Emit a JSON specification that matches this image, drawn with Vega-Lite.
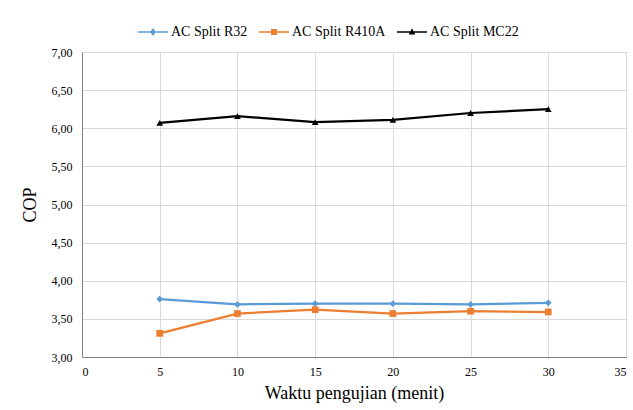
{
  "$schema": "https://vega.github.io/schema/vega-lite/v6.json",
  "autosize": {"type": "none"},
  "width": 544,
  "height": 305,
  "padding": {"left": 82, "top": 52, "right": 7, "bottom": 53},
  "background": "white",
  "config": {
    "font": "Liberation Serif",
    "style": {
      "guide-label": {"font": "Liberation Serif"},
      "guide-title": {"font": "Liberation Serif"}
    },
    "axis": {"labelFont": "Liberation Serif", "titleFont": "Liberation Serif"},
    "legend": {"labelFont": "Liberation Serif"},
    "view": {"stroke": "#bfbfbf", "strokeWidth": 1}
  },
  "data": {
    "values": [
      {"t": 5, "cop": 3.76, "s": "AC Split R32"},
      {"t": 10, "cop": 3.69, "s": "AC Split R32"},
      {"t": 15, "cop": 3.70, "s": "AC Split R32"},
      {"t": 20, "cop": 3.70, "s": "AC Split R32"},
      {"t": 25, "cop": 3.69, "s": "AC Split R32"},
      {"t": 30, "cop": 3.71, "s": "AC Split R32"},
      {"t": 5, "cop": 3.31, "s": "AC Split R410A"},
      {"t": 10, "cop": 3.57, "s": "AC Split R410A"},
      {"t": 15, "cop": 3.62, "s": "AC Split R410A"},
      {"t": 20, "cop": 3.57, "s": "AC Split R410A"},
      {"t": 25, "cop": 3.60, "s": "AC Split R410A"},
      {"t": 30, "cop": 3.59, "s": "AC Split R410A"},
      {"t": 5, "cop": 6.07, "s": "AC Split MC22"},
      {"t": 10, "cop": 6.16, "s": "AC Split MC22"},
      {"t": 15, "cop": 6.08, "s": "AC Split MC22"},
      {"t": 20, "cop": 6.11, "s": "AC Split MC22"},
      {"t": 25, "cop": 6.20, "s": "AC Split MC22"},
      {"t": 30, "cop": 6.25, "s": "AC Split MC22"}
    ]
  },
  "encoding": {
    "x": {
      "field": "t", "type": "quantitative",
      "scale": {"domain": [0, 35], "nice": false},
      "axis": {
        "values": [0, 5, 10, 15, 20, 25, 30, 35],
        "title": "Waktu pengujian (menit)",
        "titleFont": "Liberation Serif", "titleFontSize": 18, "titleFontWeight": "normal", "titleColor": "#000",
        "titlePadding": 7,
        "labelFont": "Liberation Serif", "labelFontSize": 12, "labelColor": "#000", "labelPadding": 9,
        "ticks": false, "domainColor": "#7f7f7f", "gridColor": "#d9d9d9"
      }
    },
    "y": {
      "field": "cop", "type": "quantitative",
      "scale": {"domain": [3, 7], "nice": false, "zero": false},
      "axis": {
        "values": [3, 3.5, 4, 4.5, 5, 5.5, 6, 6.5, 7],
        "labelExpr": "replace(format(datum.value, '.2f'), '.', ',')",
        "title": "COP",
        "titleFont": "Liberation Serif", "titleFontSize": 18, "titleFontWeight": "normal", "titleColor": "#000",
        "titlePadding": 12,
        "labelFont": "Liberation Serif", "labelFontSize": 12, "labelColor": "#000", "labelPadding": 10,
        "ticks": false, "domainColor": "#7f7f7f", "gridColor": "#d9d9d9"
      }
    }
  },
  "resolve": {
    "scale": {"shape": "independent", "color": "independent"},
    "legend": {"shape": "independent", "color": "independent"}
  },
  "layer": [
    {
      "mark": {"type": "line", "strokeWidth": 2.25},
      "encoding": {
        "color": {
          "field": "s", "type": "nominal", "legend": null,
          "scale": {
            "domain": ["AC Split R32", "AC Split R410A", "AC Split MC22"],
            "range": ["#5b9bd5", "#ed7d31", "#000000"]
          }
        }
      }
    },
    {
      "mark": {"type": "point", "filled": true, "size": 45, "opacity": 1},
      "encoding": {
        "color": {
          "field": "s", "type": "nominal", "legend": null,
          "scale": {
            "domain": ["AC Split R32", "AC Split R410A", "AC Split MC22"],
            "range": ["#5b9bd5", "#ed7d31", "#000000"]
          }
        },
        "shape": {
          "field": "s", "type": "nominal", "legend": null,
          "scale": {
            "domain": ["AC Split R32", "AC Split R410A", "AC Split MC22"],
            "range": ["diamond", "square", "triangle-up"]
          }
        }
      }
    },
    {
      "transform": [{"filter": "datum.t > 100"}],
      "mark": {"type": "point", "filled": true, "opacity": 1},
      "encoding": {
        "color": {
          "field": "s", "type": "nominal",
          "scale": {
            "domain": ["AC Split R32", "AC Split R410A", "AC Split MC22"],
            "range": ["#5b9bd5", "#ed7d31", "#000000"]
          },
          "legend": {
            "orient": "none", "legendX": 55, "legendY": -36, "direction": "horizontal",
            "title": null, "labelFont": "Liberation Serif", "labelFontSize": 14, "labelColor": "#000",
            "columnPadding": 10, "symbolSize": 900, "labelOffset": 2
          }
        },
        "shape": {
          "field": "s", "type": "nominal",
          "scale": {
            "domain": ["AC Split R32", "AC Split R410A", "AC Split MC22"],
            "range": [
              "M-1,-0.055L1,-0.055L1,0.055L-1,0.055Z M0,-0.26L0.18,0L0,0.26L-0.18,0Z",
              "M-1,-0.055L1,-0.055L1,0.055L-1,0.055Z M-0.2,-0.2L0.2,-0.2L0.2,0.2L-0.2,0.2Z",
              "M-1,-0.055L1,-0.055L1,0.055L-1,0.055Z M0,-0.25L0.22,0.17L-0.22,0.17Z"
            ]
          },
          "legend": {
            "orient": "none", "legendX": 55, "legendY": -36, "direction": "horizontal",
            "title": null, "labelFont": "Liberation Serif", "labelFontSize": 14, "labelColor": "#000",
            "columnPadding": 10, "symbolSize": 900, "labelOffset": 2
          }
        }
      }
    }
  ]
}
